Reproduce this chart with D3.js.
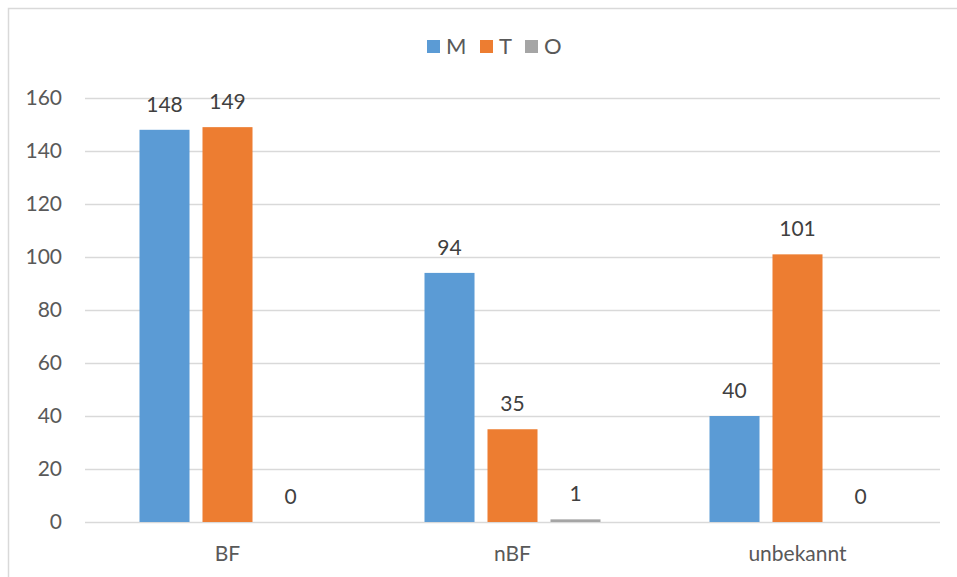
<!DOCTYPE html>
<html>
<head>
<meta charset="utf-8">
<script src="https://cdn.jsdelivr.net/npm/d3@7"></script>
<style>
  html, body { margin: 0; padding: 0; background: #fff; }
  svg { display: block; }
  text { font-family: Lato, "Open Sans", sans-serif; }
</style>
</head>
<body>
<svg id="chart" width="957" height="577"></svg>
<script>
// Counts per category, split by series
const categories = ["BF", "nBF", "unbekannt"];
const seriesNames = ["M", "T", "O"];
const seriesColors = ["#5b9bd5", "#ed7d31", "#a5a5a5"];
const valuesM = [148, 94, 40];
const valuesT = [149, 35, 101];
const valuesO = [0, 1, 0];
const yTicks = [0, 20, 40, 60, 80, 100, 120, 140, 160];

const seriesValues = [valuesM, valuesT, valuesO];

const W = 957, H = 577;
const plot = { left: 85, right: 940, top: 98, bottom: 522 };
const fontSize = "21px";

const svg = d3.select("#chart");

// Outer chart frame
svg.append("rect")
  .attr("x", 8.5).attr("y", 8.5)
  .attr("width", W + 10).attr("height", H + 10)
  .attr("fill", "none")
  .attr("stroke", "#d9d9d9")
  .attr("stroke-width", 1.5);

const x0 = d3.scaleBand()
  .domain(categories)
  .range([plot.left, plot.right])
  .paddingInner(0)
  .paddingOuter(0);

// Inner band: three bars of equal width separated by gaps
const groupWidth = 176;
const x1 = d3.scaleBand()
  .domain(seriesNames)
  .range([0, groupWidth])
  .paddingInner(0.206)
  .paddingOuter(0);

const y = d3.scaleLinear()
  .domain([0, 160])
  .range([plot.bottom, plot.top]);

// Horizontal gridlines
svg.append("g")
  .selectAll("line")
  .data(yTicks)
  .join("line")
  .attr("x1", plot.left).attr("x2", plot.right)
  .attr("y1", d => Math.round(y(d)) + 0.5)
  .attr("y2", d => Math.round(y(d)) + 0.5)
  .attr("stroke", "#d9d9d9")
  .attr("stroke-width", 1.3);

// Y axis labels
const yAxis = d3.axisLeft(y).tickValues(yTicks).tickSize(0).tickPadding(0);
const yg = svg.append("g")
  .attr("transform", `translate(${62},0)`)
  .call(yAxis);
yg.select(".domain").remove();
yg.selectAll("text")
  .attr("fill", "#595959")
  .style("font-size", fontSize)
  .style("font-family", "Lato, 'Open Sans', sans-serif");

// X axis category labels
const xAxis = d3.axisBottom(x0).tickSize(0).tickPadding(0);
const xg = svg.append("g")
  .attr("transform", `translate(0,${546})`)
  .call(xAxis);
xg.select(".domain").remove();
xg.selectAll("text")
  .attr("fill", "#595959")
  .style("font-size", fontSize)
  .style("font-family", "Lato, 'Open Sans', sans-serif");

// Bars
const rows = [];
categories.forEach((c, i) => {
  seriesNames.forEach((s, j) => {
    rows.push({ cat: c, series: s, value: seriesValues[j][i], color: seriesColors[j] });
  });
});

const groupOffset = (x0.bandwidth() - groupWidth) / 2;

const gBars = svg.append("g");
gBars.selectAll("rect")
  .data(rows.filter(d => d.value > 0))
  .join("rect")
  .attr("x", d => x0(d.cat) + groupOffset + x1(d.series))
  .attr("y", d => y(d.value))
  .attr("width", x1.bandwidth())
  .attr("height", d => y(0) - y(d.value))
  .attr("fill", d => d.color);

// Value labels
gBars.selectAll("text")
  .data(rows)
  .join("text")
  .attr("x", d => x0(d.cat) + groupOffset + x1(d.series) + x1.bandwidth() / 2)
  .attr("y", d => y(d.value) - 18)
  .attr("text-anchor", "middle")
  .attr("fill", "#404040")
  .style("font-size", fontSize)
  .text(d => d.value);

// Legend
const legendItems = [
  { name: "M", color: seriesColors[0], x: 427 },
  { name: "T", color: seriesColors[1], x: 480 },
  { name: "O", color: seriesColors[2], x: 525 }
];
const lg = svg.append("g");
const li = lg.selectAll("g").data(legendItems).join("g")
  .attr("transform", d => `translate(${d.x},40)`);
li.append("rect")
  .attr("width", 13).attr("height", 13)
  .attr("fill", d => d.color);
li.append("text")
  .attr("x", 19).attr("y", 13.5)
  .attr("fill", "#595959")
  .style("font-size", "22px")
  .text(d => d.name);
</script>
</body>
</html>
